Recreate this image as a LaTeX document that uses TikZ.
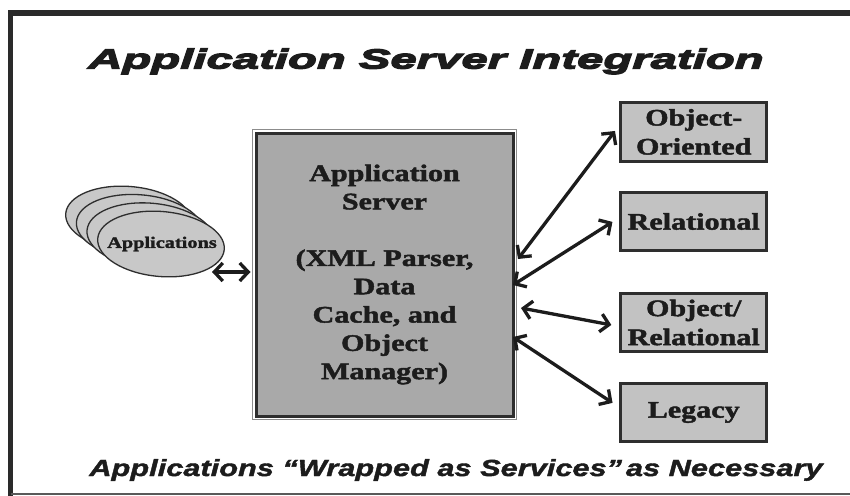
\documentclass[tikz,border=0pt]{standalone}
\usepackage{fontspec}
\usetikzlibrary{arrows.meta,shapes.geometric,calc}
\newfontfamily\srf{Liberation Serif}[FakeStretch=1.27]
\newfontfamily\ttlf{Liberation Sans}[FakeStretch=1.72]
\newfontfamily\capf{Liberation Sans}[FakeStretch=1.32]
\newcommand\heavytext[2]{\special{pdf:literal direct #1 w 2 Tr}#2\special{pdf:literal direct 0 Tr}}
\definecolor{ink}{HTML}{1C1C1C}
\definecolor{edge}{HTML}{2E2E2E}
\definecolor{srvfill}{HTML}{A9A9A9}
\definecolor{boxfill}{HTML}{C2C2C2}
\definecolor{ellfill}{HTML}{C8C8C8}
\definecolor{framec}{HTML}{2A2A2A}
\begin{document}
\begin{tikzpicture}[x=1pt,y=-1pt,
  serif/.style={text=ink, font=\srf\bfseries\fontsize{23.7}{28.3}\selectfont, align=center},
  srvbox/.style={serif, draw=edge, line width=3pt, fill=srvfill, minimum width=257pt, minimum height=283pt, inner sep=0pt},
  dbbox/.style={serif, draw=edge, line width=3pt, fill=boxfill, minimum width=146pt, minimum height=58.5pt, inner sep=0pt, font=\srf\bfseries\fontsize{23.7}{29}\selectfont},
  appell/.style={ellipse, draw=edge, line width=1.3pt, fill=ellfill, minimum width=127pt, minimum height=65pt, inner sep=0pt, rotate=-5},
  applbl/.style={text=ink, font=\srf\bfseries\fontsize{16}{18}\selectfont, inner sep=0pt},
  conn/.style={draw=ink, line width=3.3pt, {Straight Barb[length=8.5pt,width=18pt]}-{Straight Barb[length=8.5pt,width=18pt]}}
]
\useasboundingbox (0,0) rectangle (850,495);
\fill[white] (0,0) rectangle (850,495);
% frame
\draw[framec, line width=5.5pt] (10.5,500) -- (10.5,13) -- (860,13);
\draw[black!65, line width=2.5pt] (10.5,493.8) -- (860,493.8);

% title
\node[anchor=base, text=ink, inner sep=0pt, font=\ttlf\bfseries\itshape\fontsize{27.5}{30}\selectfont] (title) at (426,68.5) {\heavytext{1.3}{Application Server Integration}};

% applications stack
\node[appell] (e3) at (129,219) {};
\node[appell] (e2) at (139.7,227.3) {};
\node[appell] (e1) at (150.3,235.7) {};
\node[appell] (apps) at (161,244) {};
\node[applbl] (appslbl) at (162,244) {\heavytext{0.3}{Applications}};

% server
\node[srvbox] (server) at (384.5,274.5) {\heavytext{0.45}{Application}\\\heavytext{0.45}{Server}\\[28.3pt]\heavytext{0.45}{(XML Parser,}\\\heavytext{0.45}{Data}\\\heavytext{0.45}{Cache, and}\\\heavytext{0.45}{Object}\\\heavytext{0.45}{Manager)}};
\draw[black!45, line width=1.2pt] ([shift={(-2.1,-2.1)}]server.north west) rectangle ([shift={(2.1,2.1)}]server.south east);

% right boxes
\node[dbbox] (oo) at (693.7,131.9) {\heavytext{0.45}{Object-}\\\heavytext{0.45}{Oriented}};
\node[dbbox] (rel) at (693.7,221.5) {\heavytext{0.45}{Relational}};
\node[dbbox] (orel) at (693.7,322.5) {\heavytext{0.45}{Object/}\\\heavytext{0.45}{Relational}};
\node[dbbox] (leg) at (693.7,412.5) {\heavytext{0.45}{Legacy}};

% caption
\node[anchor=base, text=ink, inner sep=0pt, font=\capf\bfseries\itshape\fontsize{23.3}{26}\selectfont] (caption) at (456,476) {\heavytext{0.4}{Applications “Wrapped as Services”\,as Necessary}};

% connectors
\coordinate (a1) at (212,272);
\draw[conn, shorten >=4pt] (a1) -- (a1 -| server.west);
\coordinate (s1) at (518,259);
\coordinate (s2) at (513,285);
\coordinate (s3) at (521,308);
\coordinate (s4) at (513,337);
\draw[conn, shorten >=7pt] (s1) -- (oo.175);
\draw[conn, shorten >=8pt] (s2) -- (rel.177);
\draw[conn, shorten >=8pt] (s3) -- (orel.183);
\draw[conn, shorten >=8pt] (s4) -- (leg.176);
\end{tikzpicture}
\end{document}
